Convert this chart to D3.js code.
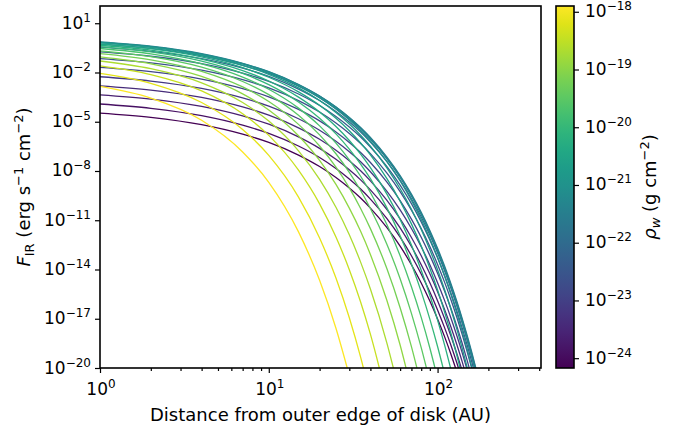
<!DOCTYPE html>
<html>
<head>
<meta charset="utf-8">
<script src="https://cdn.jsdelivr.net/npm/d3@7"></script>
<style>
  body { margin: 0; background: #fff; }
  svg { display: block; font-family: "DejaVu Sans", sans-serif; }
</style>
</head>
<body>
<svg id="chart" width="686" height="433"></svg>
<script>
const width = 686, height = 433;
const plot = { left: 100, right: 541, top: 6, bottom: 368 };
const bar = { left: 556, right: 574 };

// distance grid (AU) shared by all curves
const distance = [1, 2, 4, 7, 10, 15, 20, 25, 30, 35, 40, 50, 60, 70, 80, 90, 100, 110, 120, 130, 140, 150, 160, 170, 180];

// log10 of wind density for each curve (g cm^-2)
const rhoExp = [-24.17, -23.91, -23.65, -23.39, -23.13, -22.86, -22.60, -22.34, -22.08, -21.82, -21.56, -21.30, -21.04,
  -20.77, -20.51, -20.25, -19.99, -19.73, -19.47, -19.21, -18.95, -18.68, -18.42, -18.16, -17.90];

// log10 F_IR read along the distance grid, one row per curve
const fluxExp = [
  [-4.47, -4.73, -5.18, -5.76, -6.26, -7.03, -7.73, -8.40, -9.04, -9.65, -10.26, -11.44, -12.58, -13.71, -14.82, -15.92, -17.01, -18.09, -19.16, -20.23],
  [-3.92, -4.18, -4.63, -5.21, -5.71, -6.48, -7.18, -7.85, -8.49, -9.10, -9.71, -10.89, -12.03, -13.16, -14.27, -15.37, -16.46, -17.54, -18.61, -19.68, -20.74],
  [-3.36, -3.62, -4.07, -4.65, -5.15, -5.92, -6.62, -7.29, -7.93, -8.54, -9.15, -10.33, -11.47, -12.60, -13.71, -14.81, -15.90, -16.98, -18.05, -19.12, -20.18],
  [-2.81, -3.07, -3.52, -4.10, -4.60, -5.37, -6.07, -6.74, -7.38, -7.99, -8.60, -9.78, -10.92, -12.05, -13.16, -14.26, -15.35, -16.43, -17.50, -18.57, -19.63, -20.69],
  [-2.26, -2.52, -2.97, -3.55, -4.05, -4.82, -5.52, -6.19, -6.83, -7.44, -8.05, -9.23, -10.37, -11.50, -12.61, -13.71, -14.80, -15.88, -16.95, -18.02, -19.08, -20.14],
  [-1.69, -1.95, -2.40, -2.98, -3.48, -4.25, -4.95, -5.62, -6.26, -6.87, -7.48, -8.66, -9.80, -10.93, -12.04, -13.14, -14.23, -15.31, -16.38, -17.45, -18.51, -19.57, -20.62],
  [-1.15, -1.41, -1.86, -2.44, -2.94, -3.71, -4.41, -5.08, -5.72, -6.33, -6.94, -8.12, -9.26, -10.39, -11.50, -12.60, -13.69, -14.77, -15.84, -16.91, -17.97, -19.03, -20.08],
  [-0.75, -1.01, -1.46, -2.04, -2.54, -3.31, -4.01, -4.68, -5.32, -5.93, -6.54, -7.72, -8.86, -9.99, -11.10, -12.20, -13.29, -14.37, -15.44, -16.51, -17.57, -18.63, -19.68, -20.73],
  [-0.45, -0.71, -1.16, -1.74, -2.24, -3.01, -3.71, -4.38, -5.02, -5.63, -6.24, -7.42, -8.56, -9.69, -10.80, -11.90, -12.99, -14.07, -15.14, -16.21, -17.27, -18.33, -19.38, -20.43],
  [-0.27, -0.53, -0.98, -1.56, -2.06, -2.83, -3.53, -4.20, -4.84, -5.45, -6.06, -7.24, -8.38, -9.51, -10.62, -11.72, -12.81, -13.89, -14.96, -16.03, -17.09, -18.15, -19.20, -20.25],
  [-0.17, -0.43, -0.88, -1.46, -1.96, -2.73, -3.43, -4.10, -4.74, -5.35, -5.96, -7.14, -8.28, -9.41, -10.52, -11.62, -12.71, -13.79, -14.86, -15.93, -16.99, -18.05, -19.10, -20.15],
  [-0.14, -0.40, -0.85, -1.44, -1.95, -2.73, -3.44, -4.11, -4.76, -5.39, -6.00, -7.20, -8.36, -9.51, -10.63, -11.75, -12.85, -13.95, -15.04, -16.13, -17.21, -18.29, -19.36, -20.43],
  [-0.16, -0.42, -0.89, -1.48, -2.01, -2.80, -3.53, -4.22, -4.89, -5.54, -6.17, -7.41, -8.61, -9.79, -10.96, -12.12, -13.26, -14.40, -15.53, -16.65, -17.77, -18.89, -20.00, -21.11],
  [-0.20, -0.47, -0.95, -1.56, -2.11, -2.94, -3.71, -4.44, -5.14, -5.82, -6.49, -7.80, -9.08, -10.33, -11.57, -12.80, -14.01, -15.22, -16.42, -17.62, -18.81, -20.00, -21.18],
  [-0.27, -0.55, -1.05, -1.70, -2.29, -3.18, -4.00, -4.79, -5.55, -6.29, -7.02, -8.45, -9.84, -11.22, -12.57, -13.92, -15.25, -16.58, -17.90, -19.21, -20.52],
  [-0.34, -0.64, -1.18, -1.88, -2.52, -3.50, -4.41, -5.29, -6.14, -6.97, -7.79, -9.39, -10.96, -12.51, -14.05, -15.57, -17.08, -18.59, -20.09],
  [-0.43, -0.75, -1.31, -2.06, -2.74, -3.80, -4.79, -5.74, -6.67, -7.58, -8.47, -10.23, -11.95, -13.66, -15.35, -17.02, -18.69, -20.35],
  [-0.54, -0.87, -1.48, -2.28, -3.02, -4.17, -5.25, -6.30, -7.32, -8.32, -9.31, -11.25, -13.16, -15.05, -16.92, -18.78, -20.63],
  [-0.68, -1.04, -1.68, -2.55, -3.35, -4.61, -5.80, -6.95, -8.08, -9.19, -10.28, -12.44, -14.56, -16.67, -18.76, -20.83],
  [-0.85, -1.23, -1.93, -2.88, -3.77, -5.16, -6.48, -7.77, -9.03, -10.28, -11.51, -13.93, -16.33, -18.70, -21.06],
  [-1.05, -1.47, -2.24, -3.30, -4.28, -5.85, -7.35, -8.82, -10.26, -11.67, -13.08, -15.86, -18.60, -21.33],
  [-1.30, -1.77, -2.63, -3.83, -4.96, -6.77, -8.51, -10.21, -11.89, -13.55, -15.19, -18.45, -21.67],
  [-1.60, -2.13, -3.12, -4.51, -5.83, -7.95, -10.00, -12.02, -14.01, -15.98, -17.94, -21.82],
  [-2.05, -2.66, -3.83, -5.47, -7.05, -9.59, -12.08, -14.52, -16.94, -19.34, -21.72],
  [-2.85, -3.56, -4.91, -6.84, -8.69, -11.71, -14.66, -17.58, -20.47]
];

const xTickExp = [0, 1, 2];
const xMinorTicks = [2, 3, 4, 5, 6, 7, 8, 9, 20, 30, 40, 50, 60, 70, 80, 90, 200, 300, 400];
const yTickExp = [1, -2, -5, -8, -11, -14, -17, -20];
const cbTickExp = [-18, -19, -20, -21, -22, -23, -24];
const xDomain = [1, 410];
const yDomainExp = [-20, 2.05];
const cbDomainExp = [-24.17, -17.9];

const svg = d3.select("#chart");

const x = d3.scaleLog().domain(xDomain).range([plot.left, plot.right]);
const y = d3.scaleLog().domain(yDomainExp.map(e => Math.pow(10, e))).range([plot.bottom, plot.top]);
const cb = d3.scaleLinear().domain(cbDomainExp).range([plot.bottom, plot.top]);
const color = d3.scaleSequential(d3.interpolateViridis).domain(cbDomainExp);

const defs = svg.append("defs");
defs.append("clipPath").attr("id", "clip")
  .append("rect")
  .attr("x", plot.left).attr("y", plot.top)
  .attr("width", plot.right - plot.left).attr("height", plot.bottom - plot.top);

// curves
const line = d3.line()
  .x(d => x(d[0]))
  .y(d => y(Math.pow(10, d[1])))
  .curve(d3.curveMonotoneX);

svg.append("g")
  .attr("clip-path", "url(#clip)")
  .selectAll("path")
  .data(fluxExp)
  .join("path")
  .attr("d", row => line(row.map((v, j) => [distance[j], v])))
  .attr("fill", "none")
  .attr("stroke", (row, i) => color(rhoExp[i]))
  .attr("stroke-width", 1.3);

function powLabel(text, exp) {
  text.append("tspan").text("10");
  text.append("tspan")
    .attr("dy", -7)
    .attr("font-size", 12)
    .text(exp < 0 ? "\u2212" + (-exp) : String(exp));
}

// x axis
const xMajor = svg.append("g")
  .attr("transform", `translate(0,${plot.bottom})`)
  .call(d3.axisBottom(x).tickValues(xTickExp.map(e => Math.pow(10, e))).tickSize(5).tickFormat(""));
const xMinor = svg.append("g")
  .attr("transform", `translate(0,${plot.bottom})`)
  .call(d3.axisBottom(x).tickValues(xMinorTicks).tickSize(3).tickFormat(""));

xTickExp.forEach(e => {
  const t = svg.append("text")
    .attr("x", x(Math.pow(10, e)) + 1)
    .attr("y", 395)
    .attr("text-anchor", "middle")
    .attr("font-size", 17)
    .attr("fill", "#000");
  powLabel(t, e);
});

// y axis
const yAxis = svg.append("g")
  .attr("transform", `translate(${plot.left},0)`)
  .call(d3.axisLeft(y).tickValues(yTickExp.map(e => Math.pow(10, e))).tickSize(5).tickFormat(""));

yTickExp.forEach(e => {
  const t = svg.append("text")
    .attr("x", 91)
    .attr("y", y(Math.pow(10, e)) + 5.5)
    .attr("text-anchor", "end")
    .attr("font-size", 17)
    .attr("fill", "#000");
  powLabel(t, e);
});

[xMajor, xMinor, yAxis].forEach(g => {
  g.select(".domain").remove();
  g.selectAll(".tick line").attr("stroke", "#000").attr("stroke-width", 1.2);
});

// frame
svg.append("rect")
  .attr("x", plot.left).attr("y", plot.top)
  .attr("width", plot.right - plot.left).attr("height", plot.bottom - plot.top)
  .attr("fill", "none").attr("stroke", "#000").attr("stroke-width", 1.6);

// axis titles
svg.append("text")
  .attr("x", (plot.left + plot.right) / 2)
  .attr("y", 421)
  .attr("text-anchor", "middle")
  .attr("font-size", 18)
  .text("Distance from outer edge of disk (AU)");

const yTitle = svg.append("text")
  .attr("transform", `translate(30,${(plot.top + plot.bottom) / 2}) rotate(-90)`)
  .attr("text-anchor", "middle")
  .attr("font-size", 18);
yTitle.append("tspan").attr("font-style", "italic").text("F");
yTitle.append("tspan").attr("font-size", 13).attr("dy", 4).text("IR");
yTitle.append("tspan").attr("dy", -4).text(" (erg s");
yTitle.append("tspan").attr("font-size", 13).attr("dy", -7).text("\u22121");
yTitle.append("tspan").attr("dy", 7).text(" cm");
yTitle.append("tspan").attr("font-size", 13).attr("dy", -7).text("\u22122");
yTitle.append("tspan").attr("dy", 7).text(")");

// colorbar
const grad = defs.append("linearGradient")
  .attr("id", "viridis")
  .attr("x1", 0).attr("y1", 1).attr("x2", 0).attr("y2", 0);
grad.selectAll("stop")
  .data(d3.range(0, 1.0001, 0.05))
  .join("stop")
  .attr("offset", d => d)
  .attr("stop-color", d => d3.interpolateViridis(d));

svg.append("rect")
  .attr("x", bar.left).attr("y", plot.top)
  .attr("width", bar.right - bar.left).attr("height", plot.bottom - plot.top)
  .attr("fill", "url(#viridis)")
  .attr("stroke", "#000").attr("stroke-width", 1.6);

const cbAxis = svg.append("g")
  .attr("transform", `translate(${bar.right},0)`)
  .call(d3.axisRight(cb).tickValues(cbTickExp).tickSize(5).tickFormat(""));
cbAxis.select(".domain").remove();
cbAxis.selectAll(".tick line").attr("stroke", "#000").attr("stroke-width", 1.2);

cbTickExp.forEach(e => {
  const t = svg.append("text")
    .attr("x", 585)
    .attr("y", cb(e) + 5.5)
    .attr("font-size", 17)
    .attr("fill", "#000");
  powLabel(t, e);
});

const cbTitle = svg.append("text")
  .attr("transform", `translate(656,${(plot.top + plot.bottom) / 2}) rotate(-90)`)
  .attr("text-anchor", "middle")
  .attr("font-size", 18);
cbTitle.append("tspan").attr("font-style", "italic").text("\u03c1");
cbTitle.append("tspan").attr("font-style", "italic").attr("font-size", 13).attr("dy", 4).text("w");
cbTitle.append("tspan").attr("dy", -4).text(" (g cm");
cbTitle.append("tspan").attr("font-size", 13).attr("dy", -7).text("\u22122");
cbTitle.append("tspan").attr("dy", 7).text(")");
</script>
</body>
</html>
